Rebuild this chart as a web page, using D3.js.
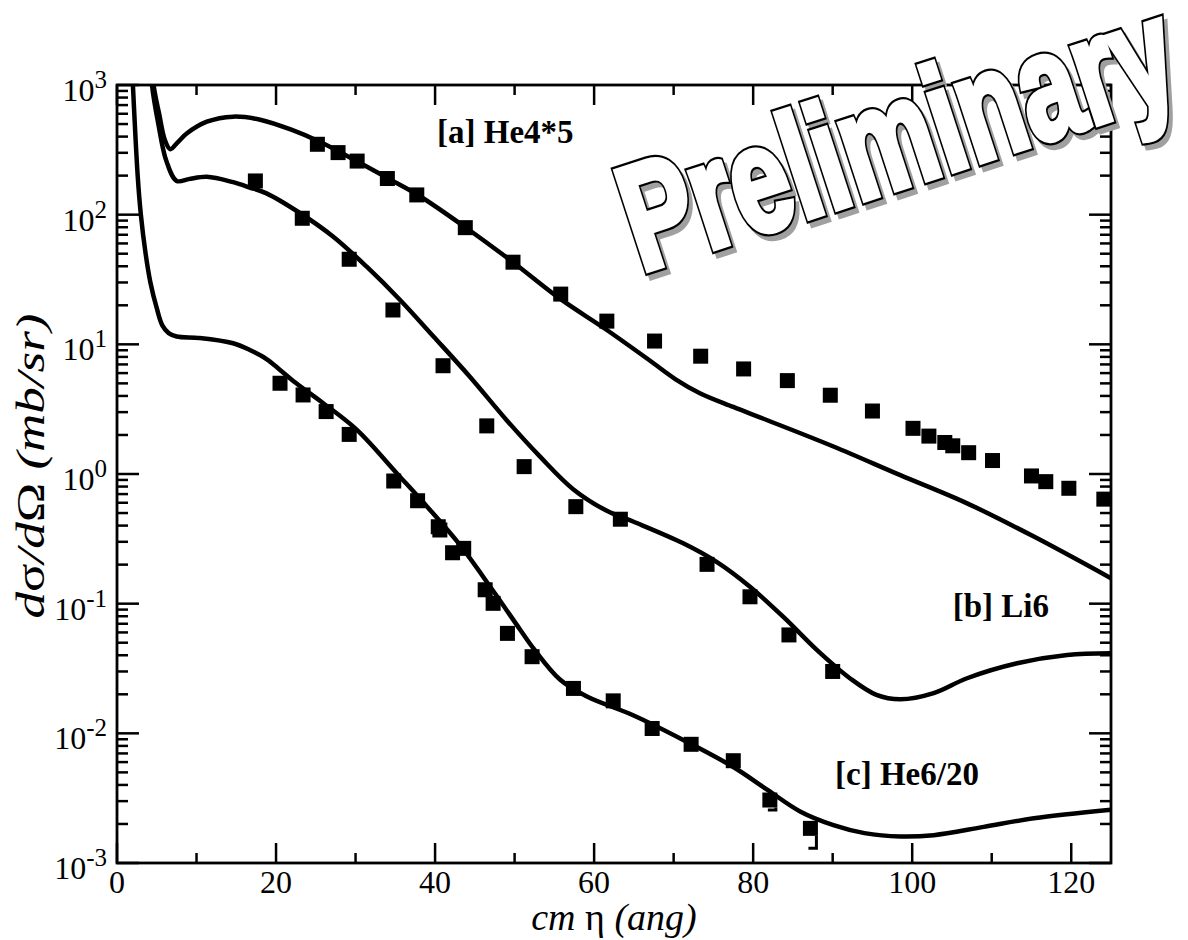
<!DOCTYPE html>
<html>
<head>
<meta charset="utf-8">
<script src="https://cdn.jsdelivr.net/npm/d3@7"></script>
<style>
  html, body { margin: 0; padding: 0; background: #fff; }
  svg { display: block; }
</style>
</head>
<body>
<svg id="chart" width="1188" height="940"></svg>
<script>
// ---- measured angular distributions (mb/sr) ----
const he4Points = [
  [25.2,349],[27.8,301],[30.2,259],[34.0,190],[37.7,142],[43.8,79.4],[49.8,43],
  [55.8,24.4],[61.6,15.1],[67.6,10.6],[73.4,8.1],[78.8,6.46],[84.3,5.25],[89.7,4.05],
  [95.0,3.06],[100.1,2.25],[102.1,1.96],[104.1,1.75],[105.1,1.65],[107.1,1.46],
  [110.1,1.27],[115.0,0.966],[116.8,0.873],[119.7,0.776],[124.1,0.64]
];
const li6Points = [
  [17.4,182],[23.3,93.8],[29.2,45.3],[34.7,18.4],[41.0,6.84],[46.5,2.35],[51.2,1.14],
  [57.7,0.56],[63.3,0.448],[74.2,0.201],[79.6,0.113],[84.5,0.0574],[90.0,0.030]
];
const he6Points = [
  [20.5,5.01],[23.4,4.07],[26.3,3.03],[29.2,2.02],[34.8,0.883],[37.8,0.622],[40.4,0.392],
  [40.6,0.37],[42.2,0.247],[43.6,0.267],[46.3,0.128],[47.3,0.1006],[49.1,0.059],
  [52.2,0.039],[57.4,0.0222],[62.4,0.0178],[67.3,0.0109],[72.2,0.00823],[77.5,0.00615],
  [82.1,0.00306],[87.2,0.00185]
];
// lower error limits shown for the last two He6 points
const he6ErrLow = [[82.1,0.00306,0.00256],[87.2,0.00185,0.0013]];

// ---- calculated cross sections ----
const he4Curve = [
  [4.0,3000],[4.6,1000],[5.3,600],[6.0,380],[6.7,320],[7.6,360],[8.8,424],[11.3,521],
  [14.6,570],[18,540],[22,450],[25.5,365],[30,262],[34,192],[38,140],[43.8,80],
  [49.8,43],[55.7,22.5],[61.6,12.9],[67,7.5],[70.2,5.4],[73.3,4.2],[77.5,3.29],
  [81.7,2.61],[90.1,1.63],[98.5,0.98],[106.9,0.594],[115.3,0.329],[125,0.157]
];
const li6Curve = [
  [3.9,3000],[4.4,1000],[5.2,500],[6.2,260],[7.5,182],[9,188],[11.3,196],[14.6,178],
  [16.7,162],[18.8,146],[23,103],[27.2,67.6],[31.4,39.7],[35.6,22],[39.8,11.5],
  [44.4,5.6],[49,2.6],[53.2,1.36],[57.4,0.76],[61.6,0.52],[64.9,0.43],[71.2,0.292],
  [75.4,0.21],[79.6,0.135],[83.8,0.079],[88,0.044],[92.2,0.0265],[95.5,0.0198],
  [98.5,0.0183],[102.7,0.0204],[106.9,0.0266],[113.2,0.0347],[119.5,0.0402],[125,0.0414]
];
const he6Curve = [
  [1.5,5000],[2.0,1000],[2.6,200],[3.0,100],[3.6,50],[4.2,30],[5.0,19],[5.7,14],
  [6.5,12.2],[7.5,11.5],[10.4,11.2],[14.6,10.2],[16.7,9.04],[18.8,7.7],[20.5,6.35],
  [22.2,5.2],[25.9,3.53],[30.2,2.18],[35.2,1.01],[39,0.56],[43,0.29],[47.2,0.128],
  [50.7,0.063],[52.4,0.045],[55.7,0.026],[59.1,0.0192],[64.9,0.0138],[71.2,0.0089],
  [77.5,0.0055],[81.7,0.0037],[85.9,0.0025],[90.1,0.00196],[94,0.0017],[98.5,0.0016],
  [102.7,0.00164],[109,0.0019],[115.3,0.00221],[125,0.00257]
];

// ---- axis ticks ----
const xMajorTicks = [0,20,40,60,80,100,120];
const xMinorTicks = [10,30,50,70,90,110];
const yDecades = [-3,-2,-1,0,1,2,3];

// ---- series labels ----
const seriesLabels = [
  {text: "[a] He4*5", x: 40.25, y: 357},
  {text: "[b] Li6", x: 105.1, y: 0.0789},
  {text: "[c] He6/20", x: 90.3, y: 0.0040}
];

const svg = d3.select("#chart");
const L = 117, T = 85, R = 1111, B = 863;
const x = d3.scaleLinear().domain([0,125]).range([L,R]);
const y = d3.scaleLog().domain([1e-3,1e3]).range([B,T]);

const serif = "'Liberation Serif','Times New Roman',serif";

svg.append("defs").append("clipPath").attr("id","plotClip")
  .append("rect").attr("x",L).attr("y",T).attr("width",R-L).attr("height",B-T);

const plot = svg.append("g").attr("clip-path","url(#plotClip)");

const line = d3.line().x(d => x(d[0])).y(d => y(d[1])).curve(d3.curveCatmullRom.alpha(0.5));

[he4Curve, li6Curve, he6Curve].forEach(c => {
  plot.append("path").attr("d", line(c))
    .attr("fill","none").attr("stroke","#000").attr("stroke-width",4.5)
    .attr("stroke-linejoin","round");
});

const msize = 15;
[he4Points, li6Points, he6Points].forEach(pts => {
  plot.selectAll(null).data(pts).enter().append("rect")
    .attr("x", d => x(d[0]) - msize/2).attr("y", d => y(d[1]) - msize/2)
    .attr("width", msize).attr("height", msize).attr("fill","#000");
});

// error bars (lower part visible below the marker)
he6ErrLow.forEach(d => {
  const cx = x(d[0]) + msize/2 - 1.5, y0 = y(d[1]) + msize/2, y1 = y(d[2]);
  plot.append("path")
    .attr("d", `M${cx},${y0}V${y1}H${cx - 8}`)
    .attr("fill","none").attr("stroke","#000").attr("stroke-width",3);
});

// ---- frame ----
svg.append("rect").attr("x",L).attr("y",T).attr("width",R-L).attr("height",B-T)
  .attr("fill","none").attr("stroke","#000").attr("stroke-width",2.8);

const ticks = svg.append("g").attr("stroke","#000").attr("stroke-width",2.5);
xMajorTicks.forEach(v => {
  ticks.append("line").attr("x1",x(v)).attr("x2",x(v)).attr("y1",B).attr("y2",B-20);
  ticks.append("line").attr("x1",x(v)).attr("x2",x(v)).attr("y1",T).attr("y2",T+20);
});
xMinorTicks.forEach(v => {
  ticks.append("line").attr("x1",x(v)).attr("x2",x(v)).attr("y1",B).attr("y2",B-10);
  ticks.append("line").attr("x1",x(v)).attr("x2",x(v)).attr("y1",T).attr("y2",T+10);
});
yDecades.forEach(p => {
  const v = Math.pow(10,p);
  ticks.append("line").attr("x1",L).attr("x2",L+22).attr("y1",y(v)).attr("y2",y(v));
  ticks.append("line").attr("x1",R).attr("x2",R-22).attr("y1",y(v)).attr("y2",y(v));
  if (p < 3) {
    for (let k = 2; k <= 9; k++) {
      const m = k * v;
      ticks.append("line").attr("x1",L).attr("x2",L+11).attr("y1",y(m)).attr("y2",y(m));
      ticks.append("line").attr("x1",R).attr("x2",R-11).attr("y1",y(m)).attr("y2",y(m));
    }
  }
});

// ---- tick labels ----
svg.append("g").selectAll("text").data(xMajorTicks).enter().append("text")
  .attr("x", d => x(d)).attr("y", B + 30)
  .attr("text-anchor","middle").attr("font-family",serif).attr("font-size",32)
  .text(d => d);

const yl = svg.append("g").selectAll("text").data(yDecades).enter().append("text")
  .attr("x", 107).attr("y", d => y(Math.pow(10,d)) + 16)
  .attr("text-anchor","end").attr("font-family",serif).attr("font-size",32);
yl.append("tspan").text("10");
yl.append("tspan").attr("dy",-13).attr("font-size",25).text(d => d);

// ---- axis titles ----
const xt = svg.append("text").attr("x",614).attr("y",930).attr("text-anchor","middle")
  .attr("font-family",serif).attr("font-size",38);
xt.append("tspan").attr("font-style","italic").text("cm ");
xt.append("tspan").text("η ");
xt.append("tspan").attr("font-style","italic").text("(ang)");

const yt = svg.append("text").attr("transform","translate(44,466) rotate(-90)")
  .attr("text-anchor","middle").attr("font-family",serif).attr("font-size",40)
  .attr("textLength",305).attr("lengthAdjust","spacingAndGlyphs");
yt.append("tspan").attr("font-style","italic").text("d");
yt.append("tspan").text("σ");
yt.append("tspan").attr("font-style","italic").text("/d");
yt.append("tspan").text("Ω");
yt.append("tspan").attr("font-style","italic").text(" (mb/sr)");

// ---- series labels ----
svg.append("g").selectAll("text").data(seriesLabels).enter().append("text")
  .attr("x", d => x(d.x)).attr("y", d => y(d.y))
  .attr("font-family",serif).attr("font-weight","bold").attr("font-size",33)
  .text(d => d.text);

// ---- watermark: outlined condensed lettering with a grey drop shadow ----
const wmFont = "'Liberation Sans',Arial,sans-serif";
const wmTransform = (dx,dy) => `translate(${641+dx},${272+dy}) rotate(-18) scale(0.70,1)`;
const wm = svg.append("g");
const wmLayer = (dx, dy, fill, stroke, sw) =>
  wm.append("text").attr("transform", wmTransform(dx,dy))
    .attr("font-family",wmFont).attr("font-weight","bold").attr("font-size",150)
    .attr("fill",fill).attr("stroke",stroke).attr("stroke-width",sw)
    .attr("stroke-linejoin","miter").attr("vector-effect","non-scaling-stroke")
    .text("Preliminary");
wmLayer(4, 5, "#a0a0a0", "#a0a0a0", 9);
wmLayer(0, 0, "#000", "#000", 9.5);
wmLayer(0, 0, "#fff", "#fff", 5.5);
</script>
</body>
</html>
